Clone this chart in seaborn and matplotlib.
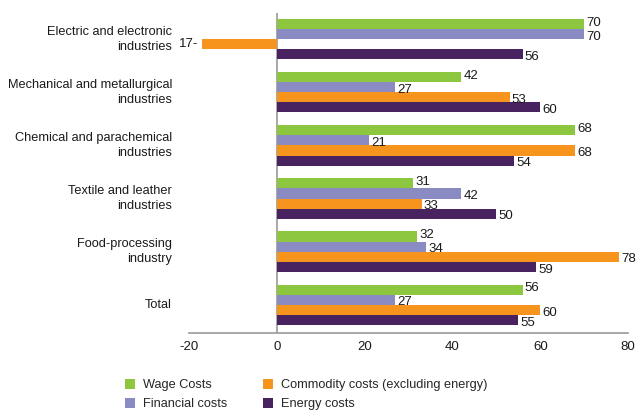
import pandas as pd
import matplotlib
matplotlib.use("Agg")
import matplotlib.pyplot as plt
import seaborn as sns

# Data
sectors = [
    "Electric and electronic\nindustries",
    "Mechanical and metallurgical\nindustries",
    "Chemical and parachemical\nindustries",
    "Textile and leather\nindustries",
    "Food-processing\nindustry",
    "Total",
]
series = ["Wage Costs", "Financial costs", "Commodity costs (excluding energy)", "Energy costs"]
wage = [70, 42, 68, 31, 32, 56]
financial = [70, 27, 21, 42, 34, 27]
commodity = [-17, 53, 68, 33, 78, 60]
energy = [56, 60, 54, 50, 59, 55]
colors = ["#8DC63F", "#8B8BC4", "#F7941D", "#48235F"]

rows = []
for name, vals in zip(series, [wage, financial, commodity, energy]):
    for sec, v in zip(sectors, vals):
        rows.append({"sector": sec, "series": name, "value": v})
df = pd.DataFrame(rows)

sns.set_style("white")
plt.rcParams["font.family"] = ["Liberation Sans", "DejaVu Sans"]

fig = plt.figure(figsize=(6.41, 4.12), dpi=100)
ax = fig.add_axes([0.295, 0.192, 0.685, 0.776])

sns.barplot(data=df, x="value", y="sector", hue="series", order=sectors,
            hue_order=series, palette=colors, orient="h", width=0.76,
            gap=0, saturation=1, linewidth=0, ax=ax, legend=True)

# value labels (wage labels sit a bit higher, the rest a bit lower, like the original)
for k, cont in enumerate(ax.containers):
    dy = 1 if k == 0 else -2
    for bar in cont:
        v = bar.get_width()
        yc = bar.get_y() + bar.get_height() / 2
        if v < 0:
            ax.annotate(f"{int(abs(v))}-", (v, yc), xytext=(-3, 0), textcoords="offset points",
                        ha="right", va="center", fontsize=9.5, color="#1a1a1a")
        else:
            ax.annotate(f"{int(v)}", (v, yc), xytext=(1.5, dy), textcoords="offset points",
                        ha="left", va="center", fontsize=9.5, color="#1a1a1a")

ax.set_xlim(-20, 80)
ax.set_ylim(5.53, -0.49)
ax.set_xticks([-20, 0, 20, 40, 60, 80])
ax.set_xticklabels(["-20", "0", "20", "40", "60", "80"])

# category labels, right aligned (drawn as text so every line is right aligned)
ax.set_yticks(range(len(sectors)), [""] * len(sectors))
for i, sec in enumerate(sectors):
    ax.text(-0.039, i, sec, transform=ax.get_yaxis_transform(), ha="right", va="center",
            ma="right", fontsize=9.2, color="#1a1a1a", linespacing=1.3)

ax.axvline(0, color="#999999", lw=1.2, zorder=0)
ax.set_xlabel("")
ax.set_ylabel("")
for s in ["top", "right", "left"]:
    ax.spines[s].set_visible(False)
ax.spines["bottom"].set_color("#999999")
ax.spines["bottom"].set_linewidth(1.2)
ax.tick_params(axis="x", direction="inout", length=8, color="#999999", labelsize=9.5,
               labelcolor="#1a1a1a", pad=2)
ax.tick_params(axis="y", length=0)

handles, labels = ax.get_legend_handles_labels()
ax.get_legend().remove()
fig.legend(handles, labels, ncol=2, loc="upper left", bbox_to_anchor=(0.187, 0.093),
           frameon=False, fontsize=9.2, handlelength=0.8, handleheight=0.8,
           columnspacing=2.8, labelspacing=0.55, handletextpad=0.6, borderaxespad=0)

fig.savefig("out.png", dpi=100)
